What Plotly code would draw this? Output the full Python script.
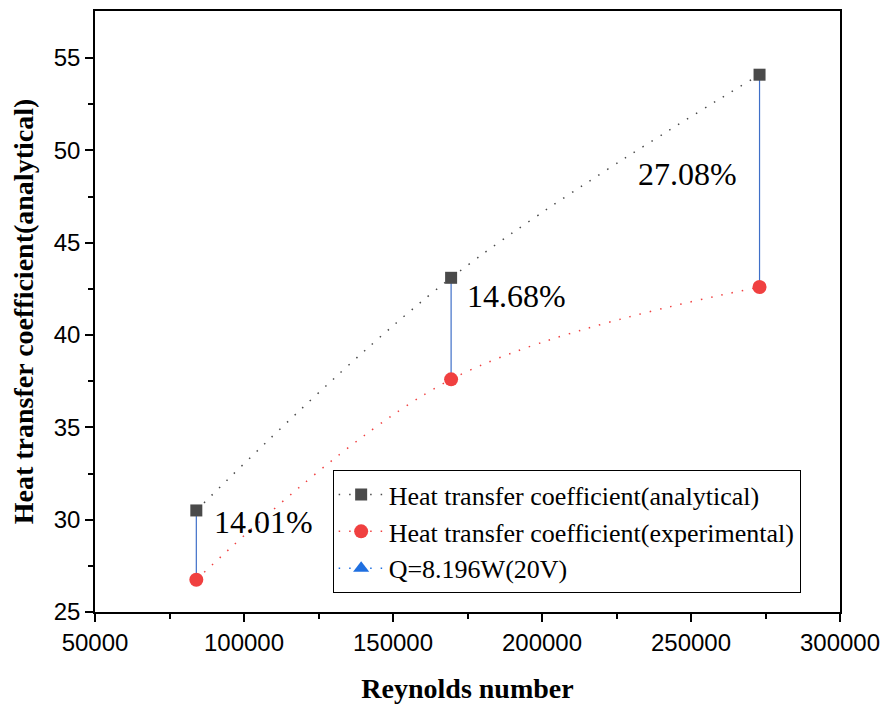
import plotly.graph_objects as go

reynolds = [84000, 169500, 273000]
h_analytical = [30.5, 43.1, 54.1]
h_experimental = [26.75, 37.6, 42.6]
pct_labels = ["14.01%", "14.68%", "27.08%"]
label_pos_x = [106500, 191500, 248700]
label_pos_y = [29.9, 42.1, 48.7]

x_ticks = [50000, 100000, 150000, 200000, 250000, 300000]
y_ticks = [25, 30, 35, 40, 45, 50, 55]

SERIF = "Liberation Serif, Times New Roman, serif"
SANS = "Liberation Sans, Arial, sans-serif"

fig = go.Figure()

# vertical connectors
vx, vy = [], []
for x, a, e in zip(reynolds, h_analytical, h_experimental):
    vx += [x, x, None]
    vy += [a, e, None]
fig.add_trace(go.Scatter(x=vx, y=vy, mode="lines", line=dict(color="#3f6fc8", width=1.2),
                         showlegend=False, hoverinfo="skip"))

DOT = "1.5px,9px"
fig.add_trace(go.Scatter(x=reynolds, y=h_analytical, mode="lines+markers",
                         name="Heat transfer coefficient(analytical)",
                         line=dict(color="#4a4a4a", width=1.5, dash=DOT, shape="spline"),
                         marker=dict(symbol="square", size=12, color="#4a4a4a")))
fig.add_trace(go.Scatter(x=reynolds, y=h_experimental, mode="lines+markers",
                         name="Heat transfer coefficient(experimental)",
                         line=dict(color="#f04040", width=1.5, dash=DOT, shape="spline"),
                         marker=dict(symbol="circle", size=14, color="#f04040")))
fig.add_trace(go.Scatter(x=[None], y=[None], mode="lines+markers",
                         name="Q=8.196W(20V)",
                         line=dict(color="#1f6fe0", width=1.5, dash=DOT),
                         marker=dict(symbol="triangle-up", size=14, color="#1f6fe0")))

for x, y, t in zip(label_pos_x, label_pos_y, pct_labels):
    fig.add_annotation(x=x, y=y, text=t, showarrow=False,
                       font=dict(family=SERIF, size=32, color="black"))

fig.update_layout(
    width=888, height=708,
    margin=dict(l=87, r=56, t=1, b=104),
    plot_bgcolor="white", paper_bgcolor="white",
    legend=dict(x=0.319, y=0.236, xanchor="left", yanchor="top",
                bordercolor="black", borderwidth=1, bgcolor="white",
                font=dict(family=SERIF, size=26, color="black"),
                tracegroupgap=0, itemwidth=45),
    xaxis=dict(range=[50000, 300000], tickvals=x_ticks,
               ticktext=[str(v) for v in x_ticks],
               ticks="outside", ticklen=8, tickwidth=1.5, tickcolor="black",
               showline=True, linecolor="black", linewidth=1.5, mirror=True,
               showgrid=False, zeroline=False,
               minor=dict(tickvals=[75000, 125000, 175000, 225000, 275000], ticks="outside",
                          ticklen=5, tickwidth=1.5, tickcolor="black"),
               tickfont=dict(family=SANS, size=24, color="black"),
               title=dict(text="<b>Reynolds number</b>", standoff=24,
                          font=dict(family=SERIF, size=28, color="black"))),
    yaxis=dict(range=[25, 57.55], tickvals=y_ticks,
               ticks="outside", ticklen=8, tickwidth=1.5, tickcolor="black",
               showline=True, linecolor="black", linewidth=1.5, mirror=True,
               showgrid=False, zeroline=False,
               minor=dict(tickvals=[27.5, 32.5, 37.5, 42.5, 47.5, 52.5], ticks="outside",
                          ticklen=5, tickwidth=1.5, tickcolor="black"),
               tickfont=dict(family=SANS, size=24, color="black"),
               title=dict(text="<b>Heat transfer coefficient(analytical)</b>", standoff=16,
                          font=dict(family=SERIF, size=28, color="black"))),
)

fig.write_html("out.html")
